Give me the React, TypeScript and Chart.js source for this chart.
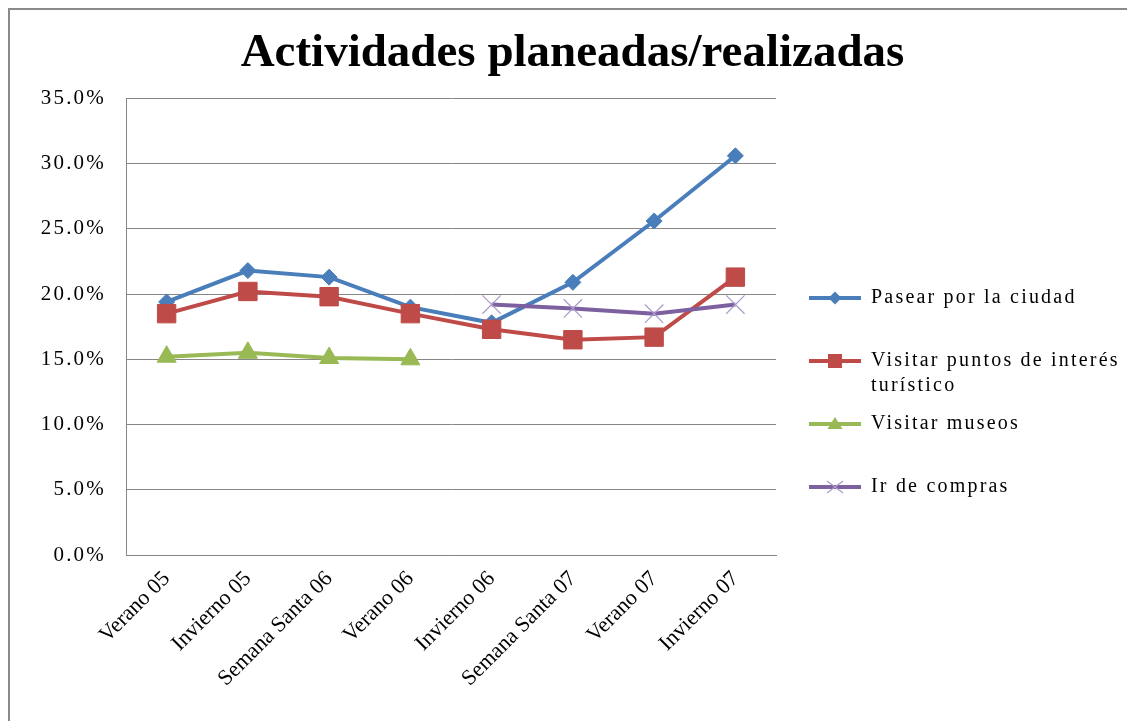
import React, { useEffect, useRef } from 'react';
import { Chart, registerables } from 'chart.js';

Chart.register(...registerables);

// ---------- data ----------
const categories = [
  'Verano 05',
  'Invierno 05',
  'Semana Santa 06',
  'Verano 06',
  'Invierno 06',
  'Semana Santa 07',
  'Verano 07',
  'Invierno 07',
];
const pasearPorLaCiudad = [19.4, 21.8, 21.3, 19.0, 17.8, 20.9, 25.6, 30.6];
const visitarPuntosDeInteres = [18.5, 20.2, 19.8, 18.5, 17.3, 16.5, 16.7, 21.3];
const visitarMuseos = [15.2, 15.5, 15.1, 15.0, null, null, null, null];
const irDeCompras = [null, null, null, null, 19.2, 18.9, 18.5, 19.2];

const seriesNames = [
  'Pasear por la ciudad',
  'Visitar puntos de interés turístico',
  'Visitar museos',
  'Ir de compras',
];
const legendLines = [
  ['Pasear por la ciudad', ''],
  ['Visitar puntos de interés', 'turístico'],
  ['Visitar museos', ''],
  ['Ir de compras', ''],
];
const chartTitle = 'Actividades planeadas/realizadas';
const yMin = 0;
const yMax = 35;
const yStep = 5;

// ---------- styles ----------
const SERIF = "'Liberation Serif', 'Times New Roman', serif";
const LETTER_SPACING = '2.2px';
const colors = ['#4A7EBB', '#BE4B48', '#98B954', '#7D60A0'];
const styles = ['rectRot', 'rect', 'triangle', 'crossRot'];
const radii = [8, 13, 11, 13];

function makeIcon(color: string, style: string): HTMLCanvasElement {
  const c = document.createElement('canvas');
  c.width = 52;
  c.height = 24;
  const g = c.getContext('2d') as CanvasRenderingContext2D;
  const cx = 26;
  const cy = 12;
  g.strokeStyle = color;
  g.lineWidth = 4;
  g.beginPath();
  g.moveTo(0, cy);
  g.lineTo(52, cy);
  g.stroke();
  g.fillStyle = color;
  if (style === 'rectRot') {
    g.beginPath();
    g.moveTo(cx, cy - 6.5);
    g.lineTo(cx + 6.5, cy);
    g.lineTo(cx, cy + 6.5);
    g.lineTo(cx - 6.5, cy);
    g.closePath();
    g.fill();
  } else if (style === 'rect') {
    g.fillRect(cx - 7, cy - 7, 14, 14);
  } else if (style === 'triangle') {
    g.beginPath();
    g.moveTo(cx, cy - 7);
    g.lineTo(cx + 7.5, cy + 5);
    g.lineTo(cx - 7.5, cy + 5);
    g.closePath();
    g.fill();
  } else {
    g.strokeStyle = '#A99BCB';
    g.lineWidth = 1.2;
    g.beginPath();
    g.moveTo(cx - 8, cy - 6);
    g.lineTo(cx + 8, cy + 6);
    g.moveTo(cx + 8, cy - 6);
    g.lineTo(cx - 8, cy + 6);
    g.stroke();
  }
  return c;
}

const LEGEND_WIDTH = 359;

const spacingPlugin = {
  id: 'letterSpacingAndLegend',
  beforeLayout(chart: any) {
    chart.ctx.letterSpacing = LETTER_SPACING;
    const lg = chart.legend;
    if (lg && !lg._fixedWidth) {
      const fit = lg.fit.bind(lg);
      lg.fit = () => {
        fit();
        lg.width = LEGEND_WIDTH;
      };
      lg._fixedWidth = true;
    }
  },
  afterLayout(chart: any) {
    const lg = chart.legend;
    if (lg) {
      lg.left += 20;
      lg.right = chart.width;
      lg.width = lg.right - lg.left;
      lg.top += 42;
      lg.bottom += 42;
    }
    const tb = chart.titleBlock;
    if (tb && !tb._noSpacing) {
      const orig = tb.draw.bind(tb);
      tb.draw = (...args: any[]) => {
        const prev = chart.ctx.letterSpacing;
        chart.ctx.letterSpacing = '0px';
        orig(...args);
        chart.ctx.letterSpacing = prev;
      };
      tb._noSpacing = true;
    }
  },
  beforeDraw(chart: any) {
    chart.ctx.letterSpacing = LETTER_SPACING;
  },
  afterDatasetsDraw(chart: any) {
    chart.ctx.letterSpacing = '0px';
  },
};

export default function App() {
  const canvasRef = useRef<HTMLCanvasElement | null>(null);

  useEffect(() => {
    const canvas = canvasRef.current;
    if (!canvas) return;
    const seriesData = [pasearPorLaCiudad, visitarPuntosDeInteres, visitarMuseos, irDeCompras];
    const icons = colors.map((c, i) => makeIcon(c, styles[i]));

    const datasets = seriesData.map((d, i) => ({
      label: seriesNames[i],
      data: d,
      borderColor: colors[i],
      backgroundColor: colors[i],
      borderWidth: 4,
      pointStyle: styles[i],
      pointRadius: radii[i],
      pointHoverRadius: radii[i],
      pointBackgroundColor: colors[i],
      pointBorderColor: i === 3 ? '#A99BCB' : colors[i],
      pointBorderWidth: i === 3 ? 1.2 : 1,
      tension: 0,
      spanGaps: false,
      order: 4 - i,
    }));

    const chart = new Chart(canvas, {
      type: 'line',
      data: { labels: categories, datasets },
      plugins: [spacingPlugin],
      options: {
        responsive: false,
        animation: false,
        layout: { padding: 0 },
        scales: {
          x: {
            offset: true,
            grid: { display: false, drawTicks: false },
            border: { display: true, color: '#868686', width: 1 },
            ticks: {
              autoSkip: false,
              minRotation: 45,
              maxRotation: 45,
              padding: 11,
              labelOffset: 0,
              color: '#000',
              font: { family: SERIF, size: 22 },
              z: 1,
            },
            afterFit: (s: any) => {
              s.height = 166;
            },
          },
          y: {
            min: yMin,
            max: yMax,
            grid: { color: '#868686', lineWidth: 1, drawTicks: false },
            border: { display: true, color: '#868686', width: 1 },
            ticks: {
              stepSize: yStep,
              padding: 20,
              color: '#000',
              font: { family: SERIF, size: 21 },
              callback: (v: any) => Number(v).toFixed(1) + '%',
            },
            afterFit: (s: any) => {
              s.width = 116;
            },
          },
        },
        plugins: {
          title: {
            display: true,
            text: chartTitle,
            color: '#000',
            font: { family: SERIF, size: 47, weight: 'bold', lineHeight: 1.2 },
            padding: { top: 16, bottom: 16 },
          },
          legend: {
            display: true,
            position: 'right',
            align: 'center',
            labels: {
              usePointStyle: true,
              pointStyleWidth: 52,
              padding: 13,
              color: '#000',
              font: { family: SERIF, size: 20, lineHeight: 1.25 },
              generateLabels: (ch: any) =>
                ch.data.datasets.map((ds: any, i: number) => ({
                  text: legendLines[i],
                  pointStyle: icons[i],
                  fillStyle: ds.borderColor,
                  strokeStyle: ds.borderColor,
                  lineWidth: 0,
                  hidden: false,
                  datasetIndex: i,
                  fontColor: '#000',
                })),
            },
          },
          tooltip: { enabled: false },
        },
      } as any,
    });
    return () => chart.destroy();
  }, []);

  return (
    <div
      style={{
        width: 1125,
        height: 711,
        borderTop: '2px solid #8a8a8a',
        borderLeft: '2px solid #8a8a8a',
        background: '#fff',
      }}
    >
      <canvas ref={canvasRef} width={1125} height={711} style={{ display: 'block' }} />
    </div>
  );
}
